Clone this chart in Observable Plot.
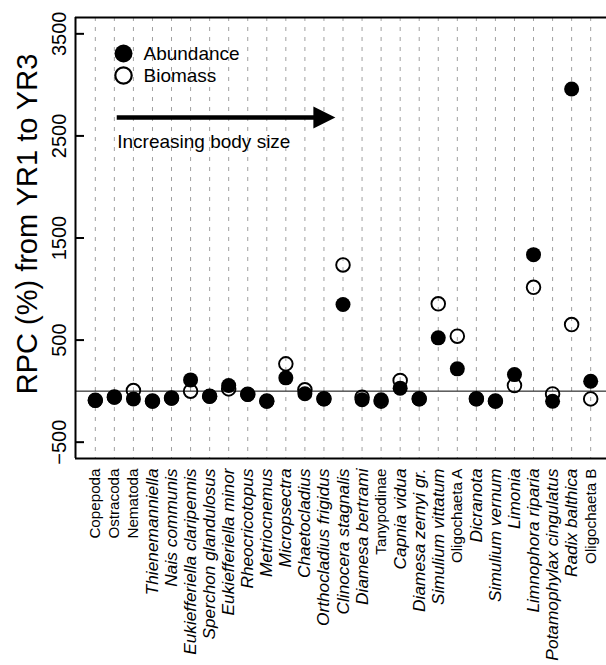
<!DOCTYPE html>
<html>
<head>
<meta charset="utf-8">
<script src="https://cdn.jsdelivr.net/npm/d3@7"></script>
<script src="https://cdn.jsdelivr.net/npm/@observablehq/plot@0.6"></script>
<style>
  html, body { margin: 0; padding: 0; background: #fff; overflow: hidden; }
</style>
</head>
<body>
<div id="chart"></div>
<script>
// Taxa ordered by increasing body size
const taxa = [
  "Copepoda", "Ostracoda", "Nematoda", "Thienemanniella", "Nais communis",
  "Eukiefferiella claripennis", "Sperchon glandulosus", "Eukiefferiella minor",
  "Rheocricotopus", "Metriocnemus", "Micropsectra", "Chaetocladius",
  "Orthocladius frigidus", "Clinocera stagnalis", "Diamesa bertrami",
  "Tanypodinae", "Capnia vidua", "Diamesa zernyi gr.", "Simulium vittatum",
  "Oligochaeta A", "Dicranota", "Simulium vernum", "Limonia",
  "Limnophora riparia", "Potamophylax cingulatus", "Radix balthica", "Oligochaeta B"
];
// Genus/species names are set in italics
const italicName = [
  false, false, false, true, true,
  true, true, true,
  true, true, true, true,
  true, true, true,
  false, true, true, true,
  false, true, true, true,
  true, true, true, false
];
// Relative percentage change (RPC, %) from YR1 to YR3
const abundance = [
  -92, -60, -76, -99, -69,
  110, -50, 55,
  -33, -99, 130, -26,
  -76, 848, -84,
  -84, 29, -76, 522,
  218, -76, -99, 162,
  1337, -99, 2960, 97
];
const biomass = [
  -90, -58, 6, -97, -68,
  -1, -50, 22,
  -30, -97, 267, 13,
  -74, 1236, -60,
  -98, 104, -74, 855,
  538, -74, -97, 55,
  1017, -27, 652, -76
];
const yTicks = [-500, 500, 1500, 2500, 3500];
const yLimits = [-500, 3500];
const yTitle = "RPC (%) from YR1 to YR3";
const legendLabels = ["Abundance", "Biomass"];
const arrowLabel = "Increasing body size";

const n = taxa.length;
const index = taxa.map((_, i) => i + 1);
const rows = taxa.map((taxon, i) => ({i: i + 1, taxon, abundance: abundance[i], biomass: biomass[i]}));

// R-style 4% padding around the plotting limits
const xPad = 0.04 * (n - 1);
const yPad = 0.04 * (yLimits[1] - yLimits[0]);
const xDomain = [1 - xPad, n + xPad];
const yDomain = [yLimits[0] - yPad, yLimits[1] + yPad];

const font = "'Liberation Sans', Arial, Helvetica, sans-serif";

// Filled arrowhead pointing right, tip at the anchor point
const headRight = {
  draw(ctx, size) {
    const l = Math.sqrt(size / Math.PI);
    ctx.moveTo(0, 0);
    ctx.lineTo(-l, -l / 2);
    ctx.lineTo(-l, l / 2);
    ctx.closePath();
  }
};

const labelAxis = (ticks, italic) => Plot.axisX(ticks, {
  anchor: "bottom",
  tickSize: 0,
  tickRotate: -90,
  textAnchor: "end",
  tickPadding: 10,
  fontSize: italic ? 17.3 : 15.2,
  fontStyle: italic ? "italic" : "normal",
  tickFormat: (i) => taxa[i - 1],
  label: null
});

const chart = Plot.plot({
  width: 606,
  height: 665,
  marginLeft: 75,
  marginRight: 0,
  marginTop: 17,
  marginBottom: 207,
  style: {fontFamily: font, background: "white", overflow: "hidden", color: "black"},
  x: {domain: xDomain, range: [75, 610], label: null, axis: null},
  y: {domain: yDomain, label: null, axis: null},
  marks: [
    // dashed guides at each taxon
    Plot.ruleX(index, {stroke: "#a0a0a0", strokeWidth: 1, strokeDasharray: "4,6"}),
    // zero reference
    Plot.ruleY([0], {stroke: "black", strokeWidth: 1}),
    // plot box (top, bottom, left)
    Plot.ruleY(yDomain, {stroke: "black", strokeWidth: 2}),
    Plot.ruleX([xDomain[0]], {stroke: "black", strokeWidth: 2}),
    // y axis with inward ticks and rotated labels
    Plot.axisY(yTicks, {
      anchor: "left",
      tickSize: -9,
      tickRotate: -90,
      tickPadding: 19,
      fontSize: 20,
      strokeWidth: 2,
      tickFormat: (d) => d.toString().replace("-", "\u2212"),
      label: null
    }),
    labelAxis(index.filter((i) => italicName[i - 1]), true),
    labelAxis(index.filter((i) => !italicName[i - 1]), false),
    Plot.text([yTitle], {frameAnchor: "left", textAnchor: "middle", lineAnchor: "middle", rotate: -90, dx: -48, dy: -14, fontSize: 29, fill: "black"}),
    // biomass (open) under abundance (filled)
    Plot.dot(rows, {x: "i", y: "biomass", r: 6.8, stroke: "black", strokeWidth: 1.9, fill: "none"}),
    Plot.dot(rows, {x: "i", y: "abundance", r: 7.5, fill: "black", stroke: "none"}),
    // legend
    Plot.dot(legendLabels.slice(0, 1), {frameAnchor: "top-left", dx: 48, dy: 36, r: 9, fill: "black", stroke: "none"}),
    Plot.dot(legendLabels.slice(1, 2), {frameAnchor: "top-left", dx: 48, dy: 58, r: 8.2, stroke: "black", strokeWidth: 2.2, fill: "none"}),
    Plot.text(legendLabels.slice(0, 1), {frameAnchor: "top-left", dx: 68, dy: 36, textAnchor: "start", lineAnchor: "middle", fontSize: 19, fill: "black"}),
    Plot.text(legendLabels.slice(1, 2), {frameAnchor: "top-left", dx: 68, dy: 58, textAnchor: "start", lineAnchor: "middle", fontSize: 19, fill: "black"}),
    // body-size arrow
    Plot.ruleY([2680], {x1: 2.15, x2: 13.6, insetRight: 18, stroke: "black", strokeWidth: 4.5}),
    Plot.dot([arrowLabel], {x: 13.6, y: 2680, symbol: headRight, r: 22, fill: "black", stroke: "none"}),
    Plot.text([arrowLabel], {x: 2.15, y: 2440, textAnchor: "start", fontSize: 19, fill: "black"})
  ]
});

document.getElementById("chart").appendChild(chart);
</script>
</body>
</html>
